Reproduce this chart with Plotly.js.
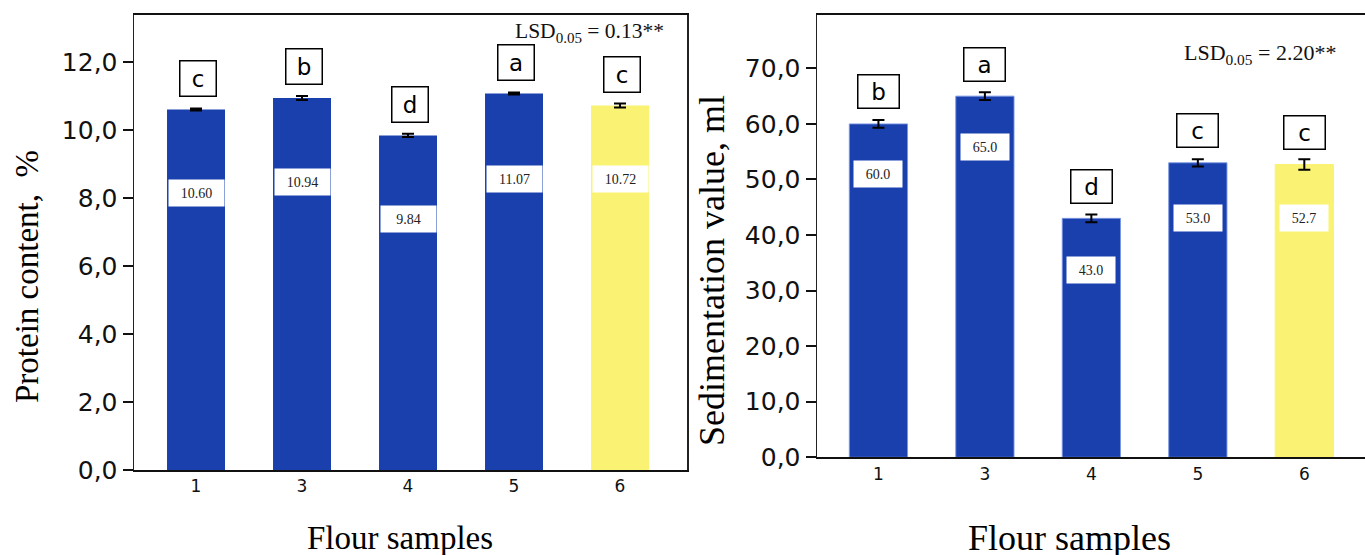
<!DOCTYPE html>
<html>
<head>
<meta charset="utf-8">
<script src="https://cdn.plot.ly/plotly-3.0.1.min.js"></script>
<style>html,body{margin:0;padding:0;background:#fff;}#chart{width:1365px;height:555px;}</style>
</head>
<body>
<div id="chart"></div>
<script>
// ---- data ----
var samples = ['1', '3', '4', '5', '6'];
var protein = [10.60, 10.94, 9.84, 11.07, 10.72];
var proteinErr = [0.03, 0.06, 0.05, 0.03, 0.06];
var proteinLetters = ['c', 'b', 'd', 'a', 'c'];
var sedimentation = [60.0, 65.0, 43.0, 53.0, 52.7];
var sedimentationErr = [0.7, 0.7, 0.7, 0.65, 0.95];
var sedimentationLetters = ['b', 'a', 'd', 'c', 'c'];
var lsdProtein = '0.13';
var lsdSedimentation = '2.20';

// ---- styling ----
var BLUE = 'rgb(26,64,174)';
var YELLOW = 'rgb(249,242,114)';
var barColors = [BLUE, BLUE, BLUE, BLUE, YELLOW];
var barEdges = ['rgba(120,150,225,0.9)', 'rgba(120,150,225,0.9)', 'rgba(120,150,225,0.9)', 'rgba(120,150,225,0.9)', YELLOW];
var SANS = 'DejaVu Sans, Arial, sans-serif';
var SERIF = 'Liberation Serif, Times New Roman, serif';
var labelDropLeft = [-83, -84, -84, -85, -74];
var labelDropRight = [-50, -51, -52, -55, -54];

var traces = [
  {
    type: 'bar', x: samples, y: protein, xaxis: 'x', yaxis: 'y',
    marker: {color: barColors, line: {width: 0}},
    error_y: {type: 'data', array: proteinErr, visible: true, color: '#000', thickness: 2, width: 6},
    hoverinfo: 'none'
  },
  {
    type: 'bar', x: samples, y: sedimentation, xaxis: 'x2', yaxis: 'y2',
    marker: {color: barColors, line: {width: 1, color: barEdges}},
    error_y: {type: 'data', array: sedimentationErr, visible: true, color: '#000', thickness: 2, width: 6},
    hoverinfo: 'none'
  }
];

var ann = [];
samples.forEach(function (s, i) {
  // value labels (category index i on the category axis)
  ann.push({xref: 'x', yref: 'y', x: i, y: protein[i], yshift: labelDropLeft[i], text: protein[i].toFixed(2),
    showarrow: false, bgcolor: '#fff', width: 51, height: 22, borderpad: 2,
    font: {family: SERIF, size: 14, color: '#222'}});
  ann.push({xref: 'x2', yref: 'y2', x: i, y: sedimentation[i], yshift: labelDropRight[i], text: sedimentation[i].toFixed(1),
    showarrow: false, bgcolor: '#fff', width: 44, height: 22, borderpad: 2,
    font: {family: SERIF, size: 14, color: '#222'}});
  // letters
  ann.push({xref: 'x', yref: 'y', x: i, y: protein[i], yshift: 31, xshift: 2, text: proteinLetters[i],
    showarrow: false, bgcolor: '#fff', bordercolor: '#000', borderwidth: 1.5, width: 33, height: 32, borderpad: 1,
    font: {family: SANS, size: 23, color: '#000'}});
  ann.push({xref: 'x2', yref: 'y2', x: i, y: sedimentation[i], yshift: 32, text: sedimentationLetters[i],
    showarrow: false, bgcolor: '#fff', bordercolor: '#000', borderwidth: 1.5, width: 38, height: 30, borderpad: 1,
    font: {family: SANS, size: 23, color: '#000'}});
});

// LSD texts
ann.push({xref: 'paper', yref: 'paper', x: 666 / 1365, y: (555 - 33) / 555, xanchor: 'right', yanchor: 'middle',
  text: 'LSD<sub>0.05</sub> = ' + lsdProtein + '**', showarrow: false, font: {family: SERIF, size: 21.5, color: '#111'}});
ann.push({xref: 'paper', yref: 'paper', x: 1338 / 1365, y: (555 - 54) / 555, xanchor: 'right', yanchor: 'middle',
  text: 'LSD<sub>0.05</sub> = ' + lsdSedimentation + '**', showarrow: false, font: {family: SERIF, size: 22, color: '#111'}});

// axis titles
ann.push({xref: 'paper', yref: 'paper', x: 27 / 1365, y: (555 - 277) / 555, xanchor: 'center', yanchor: 'middle',
  textangle: -90, text: 'Protein content,  %', showarrow: false, font: {family: SERIF, size: 33, color: '#000'}});
ann.push({xref: 'paper', yref: 'paper', x: 712 / 1365, y: (555 - 271) / 555, xanchor: 'center', yanchor: 'middle',
  textangle: -90, text: 'Sedimentation value, ml', showarrow: false, font: {family: SERIF, size: 36, color: '#000'}});
ann.push({xref: 'paper', yref: 'paper', x: 400 / 1365, y: (555 - 538) / 555, xanchor: 'center', yanchor: 'middle',
  text: 'Flour samples', showarrow: false, font: {family: SERIF, size: 33, color: '#000'}});
ann.push({xref: 'paper', yref: 'paper', x: 1069 / 1365, y: (555 - 538) / 555, xanchor: 'center', yanchor: 'middle',
  text: 'Flour samples', showarrow: false, font: {family: SERIF, size: 36, color: '#000'}});

var xCommon = {type: 'category', showline: true, linecolor: '#111', linewidth: 2, mirror: true,
  ticks: '', showgrid: false, zeroline: false, tickfont: {family: SANS, size: 17, color: '#111'}, fixedrange: true};
var yCommon = {showline: true, linecolor: '#222', linewidth: 1.5, ticks: 'outside', ticklen: 10, tickwidth: 2,
  tickcolor: '#111', showgrid: false, zeroline: false, tickformat: '.1f',
  tickfont: {family: SANS, size: 25, color: '#111'}, fixedrange: true};

var layout = {
  width: 1365, height: 555,
  margin: {l: 0, r: 0, t: 0, b: 0},
  paper_bgcolor: '#fff', plot_bgcolor: '#fff',
  showlegend: false,
  separators: ', ',
  bargap: 0.453,
  xaxis: Object.assign({}, xCommon, {domain: [134 / 1365, 687 / 1365], anchor: 'y', range: [-0.585, 4.632]}),
  yaxis: Object.assign({}, yCommon, {domain: [(555 - 470) / 555, (555 - 15) / 555], anchor: 'x', range: [0, 13.38],
    tickvals: [0, 2, 4, 6, 8, 10, 12], mirror: true}),
  xaxis2: Object.assign({}, xCommon, {domain: [817 / 1365, 1], anchor: 'y2', range: [-0.577, 4.57]}),
  yaxis2: Object.assign({}, yCommon, {domain: [(555 - 457.3) / 555, (555 - 15) / 555], anchor: 'x2', range: [0, 79.6],
    tickvals: [0, 10, 20, 30, 40, 50, 60, 70], mirror: false}),
  annotations: ann
};

Plotly.newPlot('chart', traces, layout, {staticPlot: true, displayModeBar: false});
</script>
</body>
</html>
